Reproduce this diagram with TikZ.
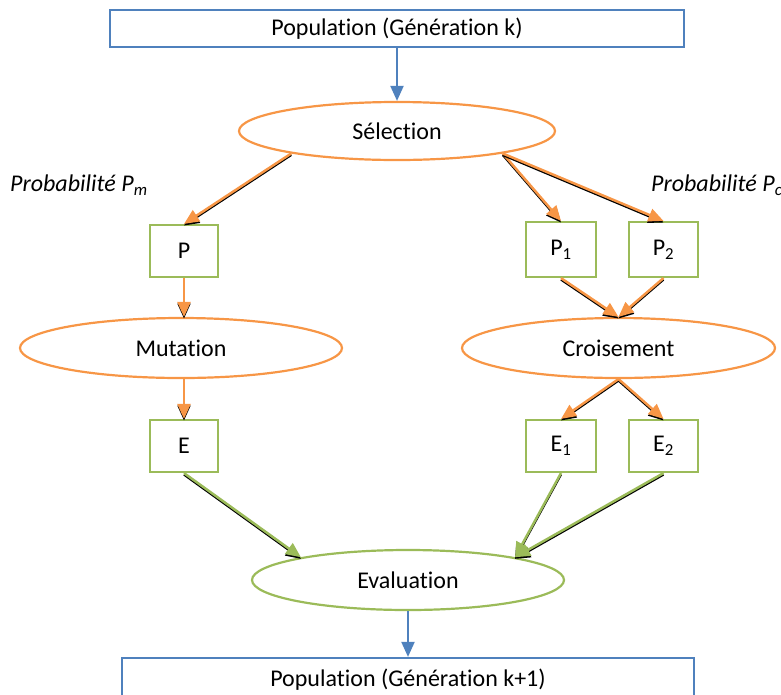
\documentclass[tikz,border=0pt]{standalone}
\usepackage{fontspec}
\setmainfont[Ligatures={NoCommon}]{Carlito}
\usetikzlibrary{shapes.geometric,arrows.meta}
\definecolor{cblue}{HTML}{4F81BD}
\definecolor{corange}{HTML}{F79646}
\definecolor{cgreen}{HTML}{9BBB59}
\tikzset{
 bbox/.style={draw=cblue, line width=2.2pt, minimum height=37pt, inner sep=0pt},
 gbox/.style={draw=cgreen, line width=2.2pt, minimum width=68pt, minimum height=52pt, inner sep=0pt},
 oell/.style={ellipse, draw=corange, line width=2.2pt, inner sep=0pt},
 gell/.style={ellipse, draw=cgreen, line width=2.2pt, inner sep=0pt},
 tipx/.style={-{Triangle[length=15pt,width=13pt]}},
 shad/.style={black, line width=2pt, tipx, transform canvas={yshift=-1.6pt}},
 oarr/.style={corange, line width=2.5pt, tipx},
 garr/.style={cgreen, line width=2.5pt, tipx},
 barr/.style={cblue, line width=2pt, tipx},
 prob/.style={font=\fontsize{24}{28}\selectfont\itshape, inner sep=0pt}
}
\newcommand\sharr[3]{\draw[shad] (#2) -- (#3); \draw[#1] (#2) -- (#3);}
\begin{document}
\begin{tikzpicture}[x=1pt,y=-1pt, font=\fontsize{24}{28}\selectfont]
\useasboundingbox (0,0) rectangle (781,694);
\node[bbox, minimum width=574pt] (top) at (397,28.5) {Population (Génération k)};
\node[oell, minimum width=316pt, minimum height=58pt] (sel) at (397,131) {Sélection};
\node[prob, anchor=west] (pm) at (10,185) {Probabilité P\textsubscript{m}};
\node[prob, anchor=west] (pc) at (651,185) {Probabilité P\textsubscript{c}};
\node[gbox] (p) at (184,251) {P};
\node[gbox, minimum width=70pt, minimum height=55pt] (p1) at (561,249.5) {P\textsubscript{1}};
\node[gbox, minimum width=69pt, minimum height=55pt] (p2) at (663.5,249.5) {P\textsubscript{2}};
\node[oell, minimum width=322pt, minimum height=60pt] (mut) at (181,348) {Mutation};
\node[oell, minimum width=313pt, minimum height=60pt] (cro) at (618.5,348) {Croisement};
\node[gbox] (e) at (184,446) {E};
\node[gbox, minimum width=70pt] (e1) at (561,446) {E\textsubscript{1}};
\node[gbox, minimum width=69pt] (e2) at (663.5,446) {E\textsubscript{2}};
\node[gell, minimum width=312pt, minimum height=60pt] (ev) at (408,580) {Evaluation};
\node[bbox, minimum width=572pt, minimum height=54pt, text depth=14pt] (bot) at (408,685) {Population (Génération k+1)};
\draw[barr] (top.south) -- (sel.north);
\sharr{oarr}{sel.192}{p.north}
\sharr{oarr}{sel.348}{p1.north}
\sharr{oarr}{sel.348}{p2.north}
\sharr{oarr}{p.south}{p.south |- mut.north}
\sharr{oarr}{p.south |- mut.south}{e.north}
\sharr{oarr}{p1.south}{cro.north}
\sharr{oarr}{p2.south}{cro.north}
\sharr{oarr}{cro.south}{e1.north}
\sharr{oarr}{cro.south}{e2.north}
\sharr{garr}{e.south}{ev.168}
\sharr{garr}{e1.south}{ev.12}
\sharr{garr}{e2.south}{ev.12}
\draw[barr] (ev.south) -- (bot.north);
\end{tikzpicture}
\end{document}
